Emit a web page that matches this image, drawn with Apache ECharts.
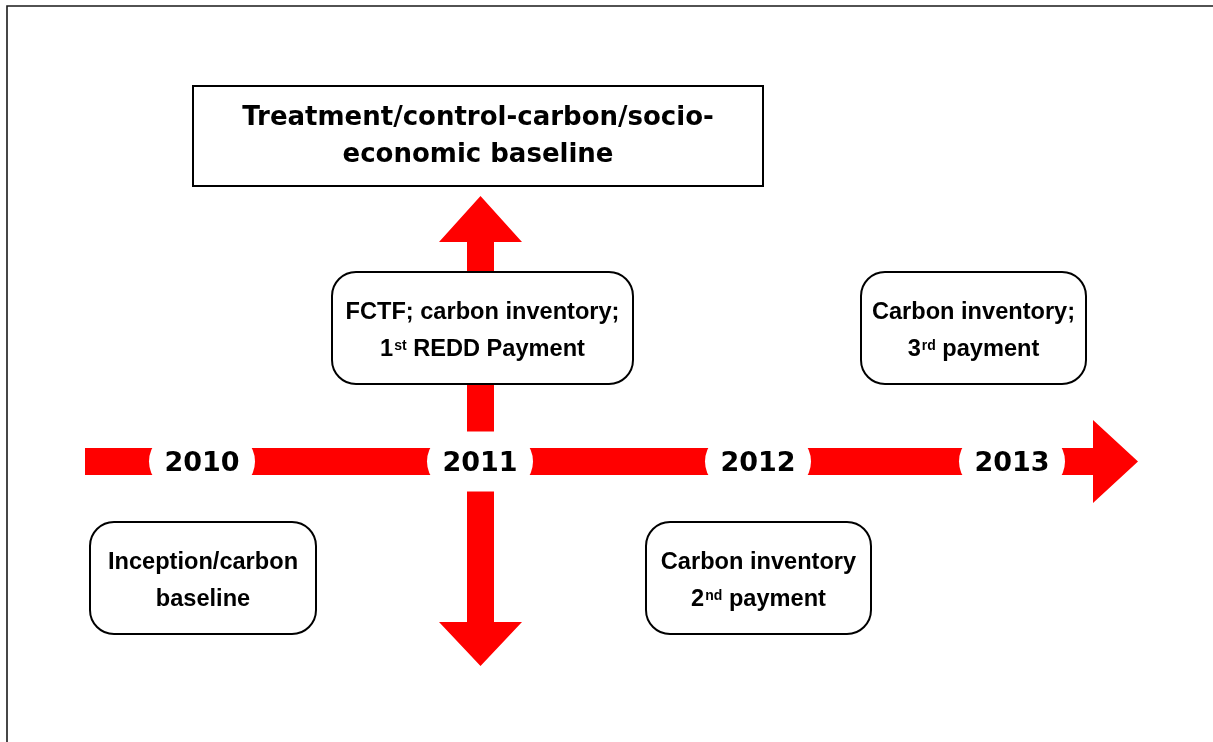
<!DOCTYPE html>
<html>
<head>
<meta charset="utf-8">
<script src="https://cdn.jsdelivr.net/npm/echarts@6/dist/echarts.min.js"></script>
<style>html,body{margin:0;padding:0;background:#fff}#c{width:1213px;height:742px}</style>
</head>
<body>
<div id="c"></div>
<script>
// ---- content ----
const years = ['2010', '2011', '2012', '2013'];
const eventLine1 = ['Treatment/control-carbon/socio-', 'FCTF; carbon inventory;', 'Carbon inventory;', 'Inception/carbon', 'Carbon inventory'];
const eventLine2 = ['economic baseline', '1^st REDD Payment', '3^rd payment', 'baseline', '2^nd payment'];

// ---- layout (diagram units = page pixels) ----
const W = 1213, H = 742;
const yearX = [202, 480, 758, 1012];
const axisY = 461.5;
const FONT = '"Liberation Sans", Arial, sans-serif';
const WIDE = '"DejaVu Sans", sans-serif';
const boxLayout = [
  { x0: 193, x1: 763, y0: 86, y1: 186, r: 0, fs: 26, ff: WIDE, dy: 1 },
  { x0: 332, x1: 633, y0: 272, y1: 384, r: 24, fs: 23.6, ff: FONT, dy: 3 },
  { x0: 861, x1: 1086, y0: 272, y1: 384, r: 24, fs: 23.6, ff: FONT, dy: 3 },
  { x0: 90, x1: 316, y0: 522, y1: 634, r: 24, fs: 23.6, ff: FONT, dy: 3 },
  { x0: 646, x1: 871, y0: 522, y1: 634, r: 24, fs: 23.6, ff: FONT, dy: 3 }
];
const RED = '#ff0000';

function rich(line) {
  return line.replace(/\^(\w+)/g, function (m, s) { return '{s|' + s + '}'; });
}

const chart = echarts.init(document.getElementById('c'), null, { renderer: 'canvas' });

const option = {
  animation: false,
  backgroundColor: '#fff',
  grid: { left: 0, top: 0, width: W, height: H },
  xAxis: { type: 'value', min: 0, max: W, show: false },
  yAxis: { type: 'value', min: 0, max: H, inverse: true, show: false },
  series: [
    // outer frame
    {
      type: 'custom', z: 1, silent: true,
      data: [[7, 6]],
      renderItem: function (params, api) {
        const p = api.coord([api.value(0), api.value(1)]);
        return { type: 'rect', shape: { x: p[0], y: p[1], width: W + 50, height: H + 50 },
          style: { fill: 'none', stroke: '#1a1a1a', lineWidth: 1.6 } };
      }
    },
    // horizontal timeline arrow
    {
      type: 'custom', z: 2, silent: true,
      data: [[85, 1093, 1138]],
      renderItem: function (params, api) {
        const a = api.coord([api.value(0), axisY]);
        const b = api.coord([api.value(1), axisY]);
        const t = api.coord([api.value(2), axisY]);
        const hw = 13.5, hh = 41.5;
        return { type: 'polygon', shape: { points: [
          [a[0], a[1] - hw], [b[0], b[1] - hw], [b[0], b[1] - hh], [t[0], t[1]],
          [b[0], b[1] + hh], [b[0], b[1] + hw], [a[0], a[1] + hw]] },
          style: { fill: RED } };
      }
    },
    // vertical double arrow at 2011
    {
      type: 'custom', z: 2, silent: true,
      data: [[480.5, 196, 242, 622, 666]],
      renderItem: function (params, api) {
        const x = api.value(0);
        const tTop = api.coord([x, api.value(1)]);
        const bTop = api.coord([x, api.value(2)]);
        const bBot = api.coord([x, api.value(3)]);
        const tBot = api.coord([x, api.value(4)]);
        const hw = 13.5, hh = 41.5, cx = tTop[0];
        return { type: 'polygon', shape: { points: [
          [cx, tTop[1]], [cx + hh, bTop[1]], [cx + hw, bTop[1]], [cx + hw, bBot[1]],
          [cx + hh, bBot[1]], [cx, tBot[1]], [cx - hh, bBot[1]], [cx - hw, bBot[1]],
          [cx - hw, bTop[1]], [cx - hh, bTop[1]]] },
          style: { fill: RED } };
      }
    },
    // year labels with white pills
    {
      type: 'custom', z: 3, silent: true,
      data: years.map(function (y, i) { return [yearX[i], axisY, y]; }),
      renderItem: function (params, api) {
        const p = api.coord([api.value(0), api.value(1)]);
        const w = 106, h = 60;
        return { type: 'group', children: [
          { type: 'rect', shape: { x: p[0] - w / 2, y: p[1] - h / 2, width: w, height: h, r: 30 },
            style: { fill: '#fff' } },
          { type: 'text', style: { x: p[0], y: p[1] + 2.5, text: years[params.dataIndex],
            align: 'center', verticalAlign: 'middle', fill: '#000',
            fontFamily: WIDE, fontWeight: 'bold', fontSize: 27 } }
        ] };
      }
    },
    // event boxes
    {
      type: 'custom', z: 4, silent: true,
      data: boxLayout.map(function (b) { return [(b.x0 + b.x1) / 2, (b.y0 + b.y1) / 2]; }),
      renderItem: function (params, api) {
        const i = params.dataIndex;
        const b = boxLayout[i];
        const c = api.coord([api.value(0), api.value(1)]);
        const s = api.size([b.x1 - b.x0, b.y1 - b.y0]);
        return { type: 'group', children: [
          { type: 'rect', shape: { x: c[0] - s[0] / 2, y: c[1] - s[1] / 2, width: s[0], height: s[1], r: b.r },
            style: { fill: '#fff', stroke: '#000', lineWidth: 2 } },
          { type: 'text', style: { x: c[0], y: c[1] + b.dy,
            text: rich(eventLine1[i]) + '\n' + rich(eventLine2[i]),
            align: 'center', verticalAlign: 'middle', fill: '#000',
            fontFamily: b.ff, fontWeight: 'bold', fontSize: b.fs, lineHeight: 37,
            rich: { s: { fontFamily: b.ff, fontWeight: 'bold', fontSize: 14, lineHeight: 14,
              verticalAlign: 'top', padding: [8, 0, 0, 1], fill: '#000' } } } }
        ] };
      }
    }
  ]
};
chart.setOption(option);
</script>
</body>
</html>
